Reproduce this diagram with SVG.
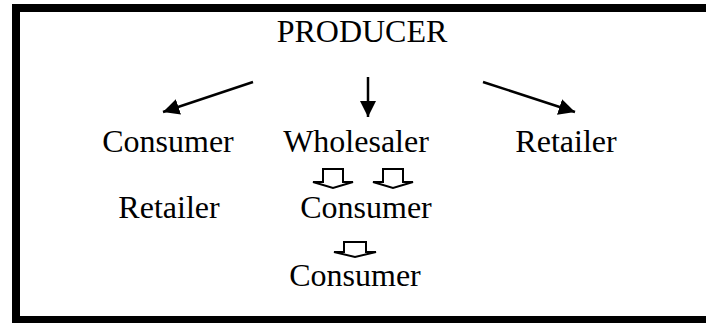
<svg xmlns="http://www.w3.org/2000/svg" width="706" height="323" viewBox="0 0 706 323">
<style>
  text { font-family: "Liberation Serif", "Times New Roman", serif; font-size: 32px; fill: #000; }
  .ln { stroke: #000; stroke-width: 2.5; fill: none; }
  .blk { stroke: #000; stroke-width: 2; fill: #fff; stroke-linejoin: miter; }
  .bar { fill: #000; }
</style>
<defs>
  <marker id="ah" viewBox="0 0 10 10" refX="10" refY="5" markerWidth="6.5" markerHeight="6.5" markerUnits="strokeWidth" orient="auto">
    <path d="M0,0 L10,5 L0,10 Z" fill="#000"/>
  </marker>
</defs>
<g id="frame">
  <rect class="bar" x="12" y="4" width="694" height="8"/>
  <rect class="bar" x="12" y="4" width="8" height="319"/>
  <rect class="bar" x="12" y="316" width="694" height="7"/>
</g>
<g id="producer"><text x="362" y="42" text-anchor="middle">PRODUCER</text></g>
<g id="consumer1"><text x="168" y="152" text-anchor="middle">Consumer</text></g>
<g id="wholesaler"><text x="356" y="152" text-anchor="middle">Wholesaler</text></g>
<g id="retailer1"><text x="566" y="152" text-anchor="middle">Retailer</text></g>
<g id="retailer2"><text x="169" y="218" text-anchor="middle">Retailer</text></g>
<g id="consumer2"><text x="366" y="218" text-anchor="middle">Consumer</text></g>
<g id="consumer3"><text x="355" y="286" text-anchor="middle">Consumer</text></g>
<g id="connectors">
  <line class="ln" x1="253" y1="82" x2="163" y2="112" marker-end="url(#ah)"/>
  <line class="ln" x1="368" y1="77" x2="368" y2="117" marker-end="url(#ah)"/>
  <line class="ln" x1="483" y1="82" x2="575" y2="112" marker-end="url(#ah)"/>
  <polygon class="blk" points="323,169 343,169 343,182 353,182 333,188 313,182 323,182"/>
  <polygon class="blk" points="383,169 403,169 403,182 413,182 393,188 373,182 383,182"/>
  <polygon class="blk" points="344,242 366,242 366,252 376,252 355,257 334,252 344,252"/>
</g>
</svg>
